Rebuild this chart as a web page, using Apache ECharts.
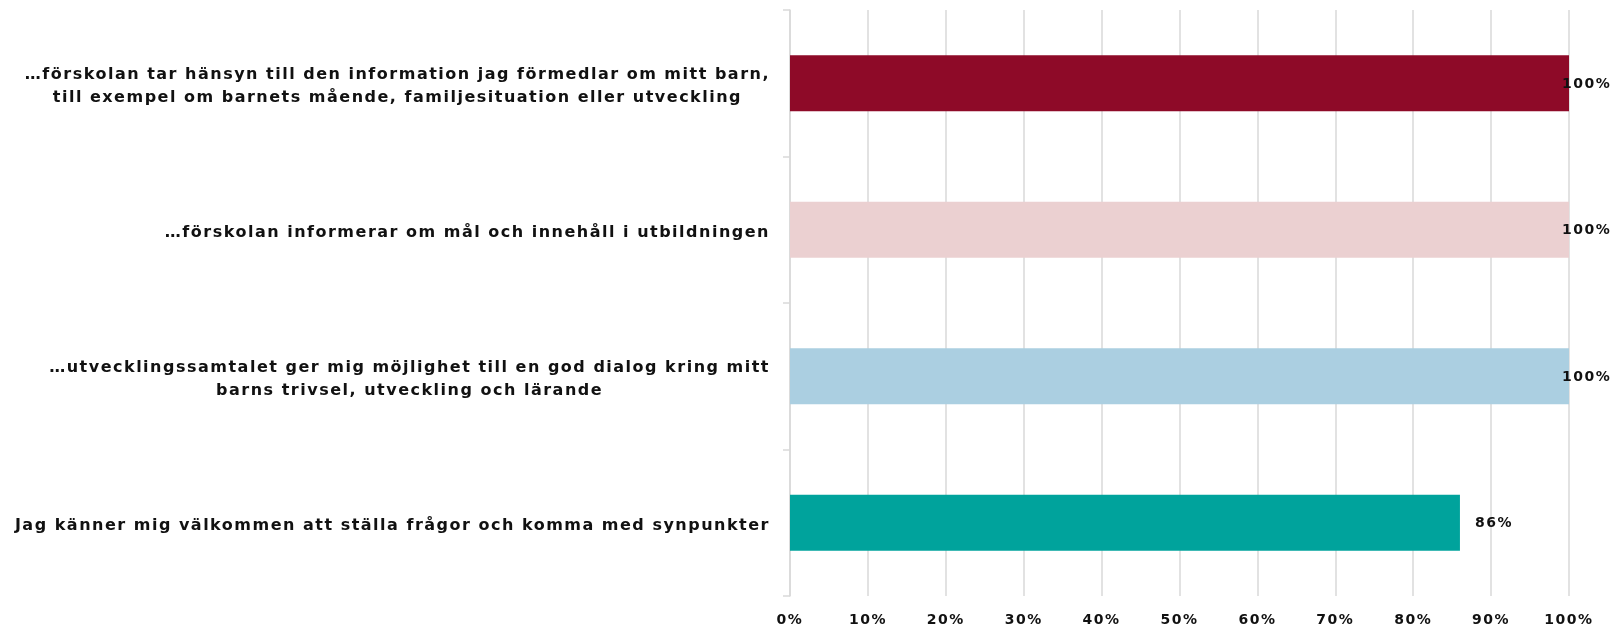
<!DOCTYPE html>
<html>
<head>
<meta charset="utf-8">
<script src="https://cdn.jsdelivr.net/npm/echarts@6/dist/echarts.min.js"></script>
<style>
  html, body { margin: 0; padding: 0; background: #fff; }
  #chart { width: 1615px; height: 626px; }
</style>
</head>
<body>
<div id="chart"></div>
<script>
// data
const categories = [
    '…förskolan tar hänsyn till den information jag förmedlar om mitt barn,\ntill exempel om barnets mående, familjesituation eller utveckling',
    '…förskolan informerar om mål och innehåll i utbildningen',
    '…utvecklingssamtalet ger mig möjlighet till en god dialog kring mitt\nbarns trivsel, utveckling och lärande',
    'Jag känner mig välkommen att ställa frågor och komma med synpunkter'
];
const values = [100, 100, 100, 86];
const barColors = ['#8e0a28', '#ebd0d1', '#abcfe1', '#00a39c'];
const xTicks = [0, 10, 20, 30, 40, 50, 60, 70, 80, 90, 100];

// the original text is letter-spaced; zrender has no option for it,
// so give every 2d context (drawing + measuring) the same spacing
const LETTER_SPACING = '1.5px';
const origGetContext = HTMLCanvasElement.prototype.getContext;
HTMLCanvasElement.prototype.getContext = function (type, opts) {
    const ctx = origGetContext.call(this, type, opts);
    if (type === '2d' && ctx && 'letterSpacing' in ctx) ctx.letterSpacing = LETTER_SPACING;
    return ctx;
};

const FONT = '"DejaVu Sans", sans-serif';
const chart = echarts.init(document.getElementById('chart'));

const option = {
    animation: false,
    grid: { left: 790, right: 46, top: 10, bottom: 30, containLabel: false, outerBoundsMode: 'none' },
    xAxis: {
        type: 'value',
        min: xTicks[0], max: xTicks[xTicks.length - 1], interval: 10,
        axisLine: { show: false },
        axisTick: { show: false },
        splitLine: { show: true, lineStyle: { color: '#d9d9d9', width: 1.5 } },
        axisLabel: {
            formatter: '{value}%',
            margin: 17,
            color: '#111',
            fontFamily: FONT, fontWeight: 'bold', fontSize: 14
        }
    },
    yAxis: {
        type: 'category',
        inverse: true,
        data: categories,
        axisLine: { show: true, lineStyle: { color: '#d9d9d9', width: 1.5 } },
        axisTick: { show: true, length: 7, lineStyle: { color: '#d9d9d9', width: 1.5 } },
        axisLabel: {
            margin: 20,
            align: 'right',
            lineHeight: 23,
            padding: [6, 0, 0, 0],
            formatter: (v) => v.split('\n').map(l => '{c|' + l + '}').join('\n'),
            rich: {
                c: {
                    align: 'center', color: '#111', lineHeight: 23,
                    fontFamily: FONT, fontWeight: 'bold', fontSize: 16
                }
            }
        }
    },
    series: [{
        type: 'bar',
        barWidth: 56,
        data: values.map((v, i) => ({
            value: v,
            itemStyle: { color: barColors[i] },
            // labels at the very end get pushed back inside, like the original
            label: v >= 100 ? { offset: [-22, 1] } : {}
        })),
        label: {
            show: true,
            position: 'right',
            distance: 15,
            offset: [0, 1],
            formatter: '{c}%',
            color: '#111',
            fontFamily: FONT, fontWeight: 'bold', fontSize: 14
        }
    }]
};

chart.setOption(option);
</script>
</body>
</html>
